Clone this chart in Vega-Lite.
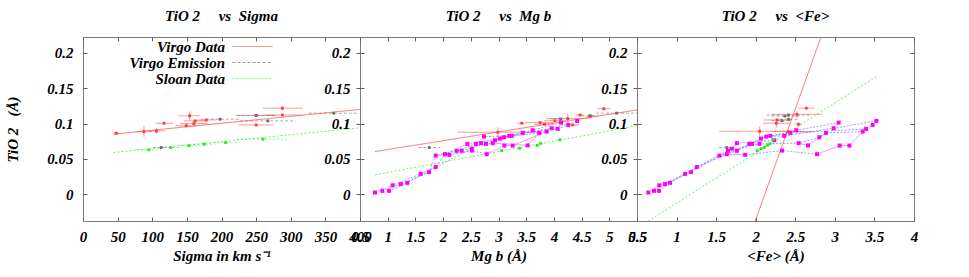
{
"$schema": "https://vega.github.io/schema/vega-lite/v6.json",
"padding": {"left": 5, "top": 8, "right": 0, "bottom": 0},
"background": "white",
"spacing": 0,
"bounds": "flush",
"datasets": {
"sig": [
{"set":"Virgo Data","x":48,"y":0.0863,"xlo":44,"xhi":52},
{"set":"Virgo Data","x":88,"y":0.0886,"xlo":76,"xhi":100,"ylo":0.0811,"yhi":0.0961},
{"set":"Virgo Data","x":106,"y":0.0895,"xlo":94,"xhi":118,"ylo":0.0855,"yhi":0.0935},
{"set":"Virgo Data","x":117,"y":0.1004,"xlo":105,"xhi":130},
{"set":"Virgo Data","x":149,"y":0.097,"xlo":134,"xhi":164},
{"set":"Virgo Data","x":154,"y":0.111,"xlo":138,"xhi":169,"ylo":0.1048,"yhi":0.1172},
{"set":"Virgo Data","x":160,"y":0.1,"xlo":140,"xhi":180},
{"set":"Virgo Data","x":162,"y":0.1037,"xlo":146,"xhi":178},
{"set":"Virgo Data","x":178,"y":0.105,"xlo":164,"xhi":193},
{"set":"Virgo Data","x":250,"y":0.098,"xlo":225,"xhi":275},
{"set":"Virgo Data","x":250,"y":0.1115,"xlo":222,"xhi":278},
{"set":"Virgo Data","x":288,"y":0.1217,"xlo":259,"xhi":317,"ylo":0.1192,"yhi":0.1242},
{"set":"Virgo Data","x":288,"y":0.112,"xlo":262,"xhi":315},
{"set":"Virgo Emission","x":113,"y":0.066,"xlo":101,"xhi":125},
{"set":"Virgo Emission","x":198,"y":0.1061,"xlo":170,"xhi":226},
{"set":"Virgo Emission","x":250,"y":0.1115,"xlo":222,"xhi":278},
{"set":"Virgo Emission","x":267,"y":0.1037,"xlo":227,"xhi":307},
{"set":"Virgo Emission","x":362,"y":0.1146,"xlo":326,"xhi":398},
{"set":"Sloan Data","x":95,"y":0.0627,"xlo":76,"xhi":114},
{"set":"Sloan Data","x":127,"y":0.0659,"xlo":112,"xhi":142},
{"set":"Sloan Data","x":153,"y":0.0687,"xlo":138,"xhi":168},
{"set":"Sloan Data","x":175,"y":0.0707,"xlo":160,"xhi":190},
{"set":"Sloan Data","x":206,"y":0.073,"xlo":190,"xhi":222},
{"set":"Sloan Data","x":260,"y":0.0778,"xlo":222,"xhi":298}
],
"mgb": [
{"set":"Virgo Data","x":2.99,"y":0.0877,"xlo":2.26,"xhi":3.73,"ylo":0.0807,"yhi":0.0947},
{"set":"Virgo Data","x":3.42,"y":0.1004,"xlo":3.33,"xhi":3.5},
{"set":"Virgo Data","x":3.75,"y":0.1013,"xlo":3.5,"xhi":4.0},
{"set":"Virgo Data","x":3.83,"y":0.099,"xlo":3.65,"xhi":4.0},
{"set":"Virgo Data","x":4.25,"y":0.107,"xlo":3.86,"xhi":4.64,"ylo":0.0995,"yhi":0.1145},
{"set":"Virgo Data","x":4.47,"y":0.112,"xlo":4.4,"xhi":4.54},
{"set":"Virgo Data","x":4.66,"y":0.1105,"xlo":4.58,"xhi":4.74},
{"set":"Virgo Data","x":4.9,"y":0.121,"xlo":4.78,"xhi":5.02,"ylo":0.1188,"yhi":0.1232},
{"set":"Virgo Data","x":4.34,"y":0.098,"xlo":4.25,"xhi":4.45},
{"set":"Virgo Data","x":4.02,"y":0.104,"xlo":3.82,"xhi":4.22},
{"set":"Virgo Emission","x":1.75,"y":0.066,"xlo":1.55,"xhi":1.95},
{"set":"Virgo Emission","x":4.12,"y":0.1065,"xlo":3.95,"xhi":4.3},
{"set":"Virgo Emission","x":4.65,"y":0.111,"xlo":4.5,"xhi":4.8},
{"set":"Virgo Emission","x":5.13,"y":0.1147,"xlo":4.76,"xhi":5.5},
{"set":"Sloan Data","x":3.06,"y":0.0617,"xlo":3.02,"xhi":3.1},
{"set":"Sloan Data","x":3.38,"y":0.065,"xlo":3.34,"xhi":3.42},
{"set":"Sloan Data","x":3.7,"y":0.069,"xlo":3.66,"xhi":3.74},
{"set":"Sloan Data","x":3.76,"y":0.072,"xlo":3.72,"xhi":3.8},
{"set":"Sloan Data","x":4.11,"y":0.077,"xlo":4.07,"xhi":4.15}
],
"fe": [
{"set":"Virgo Data","x":2.05,"y":0.089,"xlo":1.54,"xhi":2.6,"ylo":0.082,"yhi":0.096},
{"set":"Virgo Data","x":2.26,"y":0.1004,"xlo":2.09,"xhi":2.43,"ylo":0.094,"yhi":0.107},
{"set":"Virgo Data","x":2.27,"y":0.105,"xlo":2.1,"xhi":2.45},
{"set":"Virgo Data","x":2.52,"y":0.113,"xlo":2.2,"xhi":2.84,"ylo":0.108,"yhi":0.118},
{"set":"Virgo Data","x":2.64,"y":0.1217,"xlo":2.54,"xhi":2.74},
{"set":"Virgo Data","x":2.54,"y":0.099,"xlo":2.5,"xhi":2.58},
{"set":"Virgo Data","x":2.41,"y":0.0886,"xlo":2.2,"xhi":2.73},
{"set":"Virgo Emission","x":1.635,"y":0.066,"xlo":1.53,"xhi":1.73},
{"set":"Virgo Emission","x":2.415,"y":0.112,"xlo":2.14,"xhi":2.69},
{"set":"Virgo Emission","x":2.37,"y":0.1105,"xlo":2.2,"xhi":2.55},
{"set":"Virgo Emission","x":2.415,"y":0.106,"xlo":2.3,"xhi":2.55},
{"set":"Virgo Emission","x":2.33,"y":0.104,"xlo":2.2,"xhi":2.45},
{"set":"Sloan Data","x":2.02,"y":0.0615,"xlo":1.99,"xhi":2.05},
{"set":"Sloan Data","x":2.07,"y":0.0645,"xlo":2.04,"xhi":2.1},
{"set":"Sloan Data","x":2.11,"y":0.0665,"xlo":2.08,"xhi":2.14},
{"set":"Sloan Data","x":2.15,"y":0.0695,"xlo":2.12,"xhi":2.18},
{"set":"Sloan Data","x":2.18,"y":0.0715,"xlo":2.15,"xhi":2.21},
{"set":"Sloan Data","x":2.22,"y":0.0775,"xlo":2.19,"xhi":2.25}
],
"fit_sig": [
{"set":"Virgo Data","x":44,"y":0.085},{"set":"Virgo Data","x":400,"y":0.12},
{"set":"Sloan Data","x":44,"y":0.059},{"set":"Sloan Data","x":400,"y":0.094}
],
"fit_mgb": [
{"set":"Virgo Data","x":0.77,"y":0.0603},{"set":"Virgo Data","x":5.5,"y":0.1193},
{"set":"Sloan Data","x":0.77,"y":0.0273},{"set":"Sloan Data","x":5.5,"y":0.0971}
],
"fit_fe": [
{"set":"Virgo Data","x":1.994,"y":-0.038},{"set":"Virgo Data","x":2.825,"y":0.2225},
{"set":"Sloan Data","x":0.643,"y":-0.038},{"set":"Sloan Data","x":3.525,"y":0.1664}
],
"models": [
{"id":1,"mgb":0.771,"fe":0.643,"tio2":0.0023},
{"id":2,"mgb":0.903,"fe":0.715,"tio2":0.0047},
{"id":3,"mgb":1.023,"fe":0.778,"tio2":0.0047},
{"id":4,"mgb":1.09,"fe":0.782,"tio2":0.0125},
{"id":5,"mgb":1.234,"fe":0.854,"tio2":0.0142},
{"id":6,"mgb":1.354,"fe":0.918,"tio2":0.016},
{"id":7,"mgb":1.595,"fe":1.108,"tio2":0.0287},
{"id":8,"mgb":1.745,"fe":1.184,"tio2":0.0312},
{"id":9,"mgb":1.866,"fe":1.256,"tio2":0.0384},
{"id":10,"mgb":1.866,"fe":1.542,"tio2":0.0546},
{"id":11,"mgb":2.112,"fe":1.867,"tio2":0.0556},
{"id":12,"mgb":2.034,"fe":1.635,"tio2":0.0566},
{"id":13,"mgb":2.787,"fe":2.775,"tio2":0.0566},
{"id":14,"mgb":2.245,"fe":1.762,"tio2":0.0613},
{"id":15,"mgb":2.336,"fe":1.648,"tio2":0.0615},
{"id":16,"mgb":2.52,"fe":2.332,"tio2":0.0617},
{"id":17,"mgb":2.516,"fe":1.698,"tio2":0.0645},
{"id":18,"mgb":3.105,"fe":3.061,"tio2":0.0688},
{"id":19,"mgb":3.256,"fe":3.184,"tio2":0.0688},
{"id":20,"mgb":3.527,"fe":2.661,"tio2":0.069},
{"id":21,"mgb":2.437,"fe":1.918,"tio2":0.0712},
{"id":22,"mgb":2.594,"fe":1.952,"tio2":0.0712},
{"id":23,"mgb":2.774,"fe":2.048,"tio2":0.0712},
{"id":24,"mgb":2.684,"fe":1.762,"tio2":0.0722},
{"id":25,"mgb":2.895,"fe":2.542,"tio2":0.0722},
{"id":26,"mgb":2.937,"fe":2.234,"tio2":0.0763},
{"id":27,"mgb":3.027,"fe":2.066,"tio2":0.0787},
{"id":28,"mgb":2.738,"fe":2.133,"tio2":0.0815},
{"id":29,"mgb":3.195,"fe":2.184,"tio2":0.0825},
{"id":30,"mgb":3.238,"fe":2.361,"tio2":0.0825},
{"id":31,"mgb":3.437,"fe":2.437,"tio2":0.0867},
{"id":32,"mgb":3.737,"fe":2.888,"tio2":0.0867},
{"id":33,"mgb":3.87,"fe":3.352,"tio2":0.0886},
{"id":34,"mgb":3.617,"fe":2.513,"tio2":0.0905},
{"id":35,"mgb":4.068,"fe":3.395,"tio2":0.0924},
{"id":36,"mgb":3.96,"fe":2.985,"tio2":0.0933},
{"id":37,"mgb":4.26,"fe":3.478,"tio2":0.098},
{"id":38,"mgb":4.128,"fe":3.048,"tio2":0.1013},
{"id":39,"mgb":4.42,"fe":3.525,"tio2":0.1037},
{"id":40,"mgb":3.1,"fe":2.804,"tio2":0.0806}
],
"tracks": [
{"track":"B1","kind":"age","order":1,"id":1},{"track":"B1","kind":"age","order":2,"id":4},{"track":"B1","kind":"age","order":3,"id":7},{"track":"B1","kind":"age","order":4,"id":9},{"track":"B1","kind":"age","order":5,"id":12},{"track":"B1","kind":"age","order":6,"id":21},{"track":"B1","kind":"age","order":7,"id":27},{"track":"B1","kind":"age","order":8,"id":34},{"track":"B1","kind":"age","order":9,"id":38},
{"track":"B2","kind":"age","order":1,"id":2},{"track":"B2","kind":"age","order":2,"id":5},{"track":"B2","kind":"age","order":3,"id":8},{"track":"B2","kind":"age","order":4,"id":10},{"track":"B2","kind":"age","order":5,"id":14},{"track":"B2","kind":"age","order":6,"id":22},{"track":"B2","kind":"age","order":7,"id":28},{"track":"B2","kind":"age","order":8,"id":30},{"track":"B2","kind":"age","order":9,"id":36},{"track":"B2","kind":"age","order":10,"id":39},
{"track":"B3","kind":"age","order":1,"id":3},{"track":"B3","kind":"age","order":2,"id":6},{"track":"B3","kind":"age","order":3,"id":9},{"track":"B3","kind":"age","order":4,"id":17},{"track":"B3","kind":"age","order":5,"id":24},{"track":"B3","kind":"age","order":6,"id":26},{"track":"B3","kind":"age","order":7,"id":29},{"track":"B3","kind":"age","order":8,"id":31},{"track":"B3","kind":"age","order":9,"id":35},{"track":"B3","kind":"age","order":10,"id":37},
{"track":"B4","kind":"age","order":1,"id":11},{"track":"B4","kind":"age","order":2,"id":16},{"track":"B4","kind":"age","order":3,"id":13},
{"track":"B5","kind":"age","order":1,"id":15},{"track":"B5","kind":"age","order":2,"id":23},{"track":"B5","kind":"age","order":3,"id":25},{"track":"B5","kind":"age","order":4,"id":40},{"track":"B5","kind":"age","order":5,"id":32},{"track":"B5","kind":"age","order":6,"id":33},
{"track":"M1","kind":"met","order":1,"id":13},{"track":"M1","kind":"met","order":2,"id":18},{"track":"M1","kind":"met","order":3,"id":19},{"track":"M1","kind":"met","order":4,"id":33},
{"track":"M2","kind":"met","order":1,"id":25},{"track":"M2","kind":"met","order":2,"id":20},{"track":"M2","kind":"met","order":3,"id":32},
{"track":"M3","kind":"met","order":1,"id":10},{"track":"M3","kind":"met","order":2,"id":12},{"track":"M3","kind":"met","order":3,"id":11}
]
},
"hconcat": [
{
"width": 277, "height": 184,
"title": {"text": "TiO 2\u00a0\u00a0\u00a0\u00a0\u00a0vs\u00a0\u00a0Sigma"},
"layer": [
{"data": {"name": "sig"}, "mark": {"type": "rule", "strokeWidth": 0.8, "opacity": 0.7, "clip": true},
 "encoding": {
  "x": {"field": "xlo", "type": "quantitative", "scale": {"domain": [0, 400], "nice": false}, "title": "Sigma in km s\u207b\u00b9",
        "axis": {"orient": "bottom", "values": [0,50,100,150,200,250,300,350,400], "format": "~r", "tickSize": -4, "labelPadding": 12, "titlePadding": 4}},
  "x2": {"field": "xhi"},
  "y": {"field": "y", "type": "quantitative", "scale": {"domain": [-0.038, 0.2225], "nice": false}, "title": "TiO 2\u00a0\u00a0\u00a0(\u00c5)",
        "axis": {"orient": "left", "values": [0,0.05,0.1,0.15,0.2], "format": "~r", "tickSize": -4, "labelPadding": 14, "titlePadding": 26}},
  "color": {"field": "set", "type": "nominal", "scale": {"domain": ["Virgo Data","Virgo Emission","Sloan Data"], "range": ["#ff3c3c","#6e6e6e","#2ee62e"]},
            "legend": {"orient": "none", "legendX": 162, "legendY": 2, "title": null, "symbolType": "M-4,0H4", "symbolSize": 100, "symbolStrokeWidth": 1, "labelAlign": "right", "labelOffset": -35, "labelFont": "Liberation Serif", "labelFontSize": 15, "labelFontStyle": "italic", "labelFontWeight": "bold", "labelColor": "#000", "rowPadding": 0, "labelLimit": 300}},
  "strokeDash": {"field": "set", "type": "nominal", "scale": {"domain": ["Virgo Data","Virgo Emission","Sloan Data"], "range": [[1,0],[3,2],[2,2]]},
            "legend": {"orient": "none", "legendX": 162, "legendY": 2, "title": null, "symbolType": "M-4,0H4", "symbolSize": 100, "symbolStrokeWidth": 1, "labelAlign": "right", "labelOffset": -35, "labelFont": "Liberation Serif", "labelFontSize": 15, "labelFontStyle": "italic", "labelFontWeight": "bold", "labelColor": "#000", "rowPadding": 0, "labelLimit": 300}}
 }},
{"data": {"name": "sig"}, "transform": [{"filter": {"field": "ylo", "valid": true}}], "mark": {"type": "rule", "strokeWidth": 0.8, "opacity": 0.7},
 "encoding": {
  "x": {"field": "x", "type": "quantitative", "scale": {"domain": [0, 400], "nice": false}, "axis": null},
  "y": {"field": "ylo", "type": "quantitative", "scale": {"domain": [-0.038, 0.2225], "nice": false}, "axis": null},
  "y2": {"field": "yhi"},
  "color": {"field": "set", "type": "nominal", "legend": null}
 }},
{"data": {"name": "fit_sig"}, "mark": {"type": "line", "strokeWidth": 0.9, "opacity": 0.8, "clip": true},
 "encoding": {
  "x": {"field": "x", "type": "quantitative", "scale": {"domain": [0, 400], "nice": false}, "title": null,
        "axis": {"orient": "top", "values": [0,50,100,150,200,250,300,350,400], "labels": false, "tickSize": -4}},
  "y": {"field": "y", "type": "quantitative", "scale": {"domain": [-0.038, 0.2225], "nice": false}, "title": null,
        "axis": {"orient": "right", "values": [0,0.05,0.1,0.15,0.2], "labels": false, "tickSize": -4}},
  "detail": {"field": "set"},
  "color": {"field": "set", "type": "nominal", "legend": null},
  "strokeDash": {"field": "set", "type": "nominal", "legend": null}
 }},
{"data": {"name": "sig"}, "mark": {"type": "square", "size": 8, "filled": true, "opacity": 1},
 "encoding": {
  "x": {"field": "x", "type": "quantitative", "scale": {"domain": [0, 400], "nice": false}, "axis": null},
  "y": {"field": "y", "type": "quantitative", "scale": {"domain": [-0.038, 0.2225], "nice": false}, "axis": null},
  "color": {"field": "set", "type": "nominal", "legend": null}
 }}
],
"resolve": {"axis": {"x": "independent", "y": "independent"}}
},
{
"width": 277, "height": 184,
"title": {"text": "TiO 2\u00a0\u00a0\u00a0\u00a0\u00a0vs\u00a0\u00a0Mg b"},
"layer": [
{"data": {"name": "mgb"}, "mark": {"type": "rule", "strokeWidth": 0.8, "opacity": 0.7, "clip": true},
 "encoding": {
  "x": {"field": "xlo", "type": "quantitative", "scale": {"domain": [0.5, 5.5], "nice": false}, "title": "Mg b (\u00c5)",
        "axis": {"orient": "bottom", "values": [0.5,1,1.5,2,2.5,3,3.5,4,4.5,5,5.5], "format": "~r", "tickSize": -4, "labelPadding": 12, "titlePadding": 4}},
  "x2": {"field": "xhi"},
  "y": {"field": "y", "type": "quantitative", "scale": {"domain": [-0.038, 0.2225], "nice": false}, "title": null,
        "axis": {"orient": "left", "values": [0,0.05,0.1,0.15,0.2], "format": "~r", "tickSize": -4, "labelPadding": 14}},
  "color": {"field": "set", "type": "nominal", "scale": {"domain": ["Virgo Data","Virgo Emission","Sloan Data"], "range": ["#ff3c3c","#6e6e6e","#2ee62e"]}, "legend": null},
  "strokeDash": {"field": "set", "type": "nominal", "scale": {"domain": ["Virgo Data","Virgo Emission","Sloan Data"], "range": [[1,0],[3,2],[2,2]]}, "legend": null}
 }},
{"data": {"name": "mgb"}, "transform": [{"filter": {"field": "ylo", "valid": true}}], "mark": {"type": "rule", "strokeWidth": 0.8, "opacity": 0.7},
 "encoding": {
  "x": {"field": "x", "type": "quantitative", "scale": {"domain": [0.5, 5.5], "nice": false}, "axis": null},
  "y": {"field": "ylo", "type": "quantitative", "scale": {"domain": [-0.038, 0.2225], "nice": false}, "axis": null},
  "y2": {"field": "yhi"},
  "color": {"field": "set", "type": "nominal", "legend": null}
 }},
{"data": {"name": "fit_mgb"}, "mark": {"type": "line", "strokeWidth": 0.9, "opacity": 0.8, "clip": true},
 "encoding": {
  "x": {"field": "x", "type": "quantitative", "scale": {"domain": [0.5, 5.5], "nice": false}, "title": null,
        "axis": {"orient": "top", "values": [0.5,1,1.5,2,2.5,3,3.5,4,4.5,5,5.5], "labels": false, "tickSize": -4}},
  "y": {"field": "y", "type": "quantitative", "scale": {"domain": [-0.038, 0.2225], "nice": false}, "title": null,
        "axis": {"orient": "right", "values": [0,0.05,0.1,0.15,0.2], "labels": false, "tickSize": -4}},
  "detail": {"field": "set"},
  "color": {"field": "set", "type": "nominal", "legend": null},
  "strokeDash": {"field": "set", "type": "nominal", "legend": null}
 }},
{"data": {"name": "tracks"}, "transform": [{"filter": {"field": "kind", "equal": "age"}}, {"lookup": "id", "from": {"data": {"name": "models"}, "key": "id", "fields": ["mgb", "fe", "tio2"]}}],
 "mark": {"type": "line", "color": "#5a5aff", "strokeWidth": 0.8, "strokeDash": [2, 1.5], "opacity": 0.75},
 "encoding": {
  "x": {"field": "mgb", "type": "quantitative", "scale": {"domain": [0.5, 5.5], "nice": false}, "axis": null},
  "y": {"field": "tio2", "type": "quantitative", "scale": {"domain": [-0.038, 0.2225], "nice": false}, "axis": null},
  "detail": {"field": "track"},
  "order": {"field": "order", "type": "quantitative"}
 }},
{"data": {"name": "tracks"}, "transform": [{"filter": {"field": "kind", "equal": "met"}}, {"lookup": "id", "from": {"data": {"name": "models"}, "key": "id", "fields": ["mgb", "fe", "tio2"]}}],
 "mark": {"type": "line", "color": "#ff66ff", "strokeWidth": 0.8, "opacity": 0.9},
 "encoding": {
  "x": {"field": "mgb", "type": "quantitative", "scale": {"domain": [0.5, 5.5], "nice": false}, "axis": null},
  "y": {"field": "tio2", "type": "quantitative", "scale": {"domain": [-0.038, 0.2225], "nice": false}, "axis": null},
  "detail": {"field": "track"},
  "order": {"field": "order", "type": "quantitative"}
 }},
{"data": {"name": "models"}, "mark": {"type": "square", "size": 16, "filled": true, "color": "#ff00ff", "opacity": 1},
 "encoding": {
  "x": {"field": "mgb", "type": "quantitative", "scale": {"domain": [0.5, 5.5], "nice": false}, "axis": null},
  "y": {"field": "tio2", "type": "quantitative", "scale": {"domain": [-0.038, 0.2225], "nice": false}, "axis": null}
 }},
{"data": {"name": "mgb"}, "mark": {"type": "square", "size": 8, "filled": true, "opacity": 1},
 "encoding": {
  "x": {"field": "x", "type": "quantitative", "scale": {"domain": [0.5, 5.5], "nice": false}, "axis": null},
  "y": {"field": "y", "type": "quantitative", "scale": {"domain": [-0.038, 0.2225], "nice": false}, "axis": null},
  "color": {"field": "set", "type": "nominal", "legend": null}
 }}
],
"resolve": {"axis": {"x": "independent", "y": "independent"}}
},
{
"width": 277, "height": 184,
"title": {"text": "TiO 2\u00a0\u00a0\u00a0\u00a0\u00a0vs\u00a0\u00a0<Fe>"},
"layer": [
{"data": {"name": "fe"}, "mark": {"type": "rule", "strokeWidth": 0.8, "opacity": 0.7, "clip": true},
 "encoding": {
  "x": {"field": "xlo", "type": "quantitative", "scale": {"domain": [0.5, 4], "nice": false}, "title": "<Fe> (\u00c5)",
        "axis": {"orient": "bottom", "values": [0.5,1,1.5,2,2.5,3,3.5,4], "format": "~r", "tickSize": -4, "labelPadding": 12, "titlePadding": 4}},
  "x2": {"field": "xhi"},
  "y": {"field": "y", "type": "quantitative", "scale": {"domain": [-0.038, 0.2225], "nice": false}, "title": null,
        "axis": {"orient": "left", "values": [0,0.05,0.1,0.15,0.2], "format": "~r", "tickSize": -4, "labelPadding": 14}},
  "color": {"field": "set", "type": "nominal", "scale": {"domain": ["Virgo Data","Virgo Emission","Sloan Data"], "range": ["#ff3c3c","#6e6e6e","#2ee62e"]}, "legend": null},
  "strokeDash": {"field": "set", "type": "nominal", "scale": {"domain": ["Virgo Data","Virgo Emission","Sloan Data"], "range": [[1,0],[3,2],[2,2]]}, "legend": null}
 }},
{"data": {"name": "fe"}, "transform": [{"filter": {"field": "ylo", "valid": true}}], "mark": {"type": "rule", "strokeWidth": 0.8, "opacity": 0.7},
 "encoding": {
  "x": {"field": "x", "type": "quantitative", "scale": {"domain": [0.5, 4], "nice": false}, "axis": null},
  "y": {"field": "ylo", "type": "quantitative", "scale": {"domain": [-0.038, 0.2225], "nice": false}, "axis": null},
  "y2": {"field": "yhi"},
  "color": {"field": "set", "type": "nominal", "legend": null}
 }},
{"data": {"name": "fit_fe"}, "mark": {"type": "line", "strokeWidth": 0.9, "opacity": 0.8, "clip": true},
 "encoding": {
  "x": {"field": "x", "type": "quantitative", "scale": {"domain": [0.5, 4], "nice": false}, "title": null,
        "axis": {"orient": "top", "values": [0.5,1,1.5,2,2.5,3,3.5,4], "labels": false, "tickSize": -4}},
  "y": {"field": "y", "type": "quantitative", "scale": {"domain": [-0.038, 0.2225], "nice": false}, "title": null,
        "axis": {"orient": "right", "values": [0,0.05,0.1,0.15,0.2], "labels": false, "tickSize": -4}},
  "detail": {"field": "set"},
  "color": {"field": "set", "type": "nominal", "legend": null},
  "strokeDash": {"field": "set", "type": "nominal", "legend": null}
 }},
{"data": {"name": "tracks"}, "transform": [{"filter": {"field": "kind", "equal": "age"}}, {"lookup": "id", "from": {"data": {"name": "models"}, "key": "id", "fields": ["mgb", "fe", "tio2"]}}],
 "mark": {"type": "line", "color": "#5a5aff", "strokeWidth": 0.8, "strokeDash": [2, 1.5], "opacity": 0.75},
 "encoding": {
  "x": {"field": "fe", "type": "quantitative", "scale": {"domain": [0.5, 4], "nice": false}, "axis": null},
  "y": {"field": "tio2", "type": "quantitative", "scale": {"domain": [-0.038, 0.2225], "nice": false}, "axis": null},
  "detail": {"field": "track"},
  "order": {"field": "order", "type": "quantitative"}
 }},
{"data": {"name": "tracks"}, "transform": [{"filter": {"field": "kind", "equal": "met"}}, {"lookup": "id", "from": {"data": {"name": "models"}, "key": "id", "fields": ["mgb", "fe", "tio2"]}}],
 "mark": {"type": "line", "color": "#ff66ff", "strokeWidth": 0.8, "opacity": 0.9},
 "encoding": {
  "x": {"field": "fe", "type": "quantitative", "scale": {"domain": [0.5, 4], "nice": false}, "axis": null},
  "y": {"field": "tio2", "type": "quantitative", "scale": {"domain": [-0.038, 0.2225], "nice": false}, "axis": null},
  "detail": {"field": "track"},
  "order": {"field": "order", "type": "quantitative"}
 }},
{"data": {"name": "models"}, "mark": {"type": "square", "size": 16, "filled": true, "color": "#ff00ff", "opacity": 1},
 "encoding": {
  "x": {"field": "fe", "type": "quantitative", "scale": {"domain": [0.5, 4], "nice": false}, "axis": null},
  "y": {"field": "tio2", "type": "quantitative", "scale": {"domain": [-0.038, 0.2225], "nice": false}, "axis": null}
 }},
{"data": {"name": "fe"}, "mark": {"type": "square", "size": 8, "filled": true, "opacity": 1},
 "encoding": {
  "x": {"field": "x", "type": "quantitative", "scale": {"domain": [0.5, 4], "nice": false}, "axis": null},
  "y": {"field": "y", "type": "quantitative", "scale": {"domain": [-0.038, 0.2225], "nice": false}, "axis": null},
  "color": {"field": "set", "type": "nominal", "legend": null}
 }}
],
"resolve": {"axis": {"x": "independent", "y": "independent"}}
}
],
"resolve": {"scale": {"color": "independent", "strokeDash": "independent"}, "legend": {"color": "independent", "strokeDash": "independent"}},
"config": {
 "font": "Liberation Serif",
 "view": {"stroke": "#7a7a7a", "strokeWidth": 1},
 "axis": {"labelFont": "Liberation Serif", "labelFontSize": 15, "labelFontStyle": "italic", "labelFontWeight": "bold", "labelColor": "#000",
          "titleFont": "Liberation Serif", "titleFontSize": 15, "titleFontStyle": "italic", "titleFontWeight": "bold", "titleColor": "#000",
          "domain": false, "grid": false, "tickColor": "#606060", "labelFlush": false, "labelOverlap": false},
 "title": {"font": "Liberation Serif", "fontSize": 15, "fontStyle": "italic", "fontWeight": "bold", "color": "#000", "offset": 13, "anchor": "middle", "frame": "group"}
}
}
